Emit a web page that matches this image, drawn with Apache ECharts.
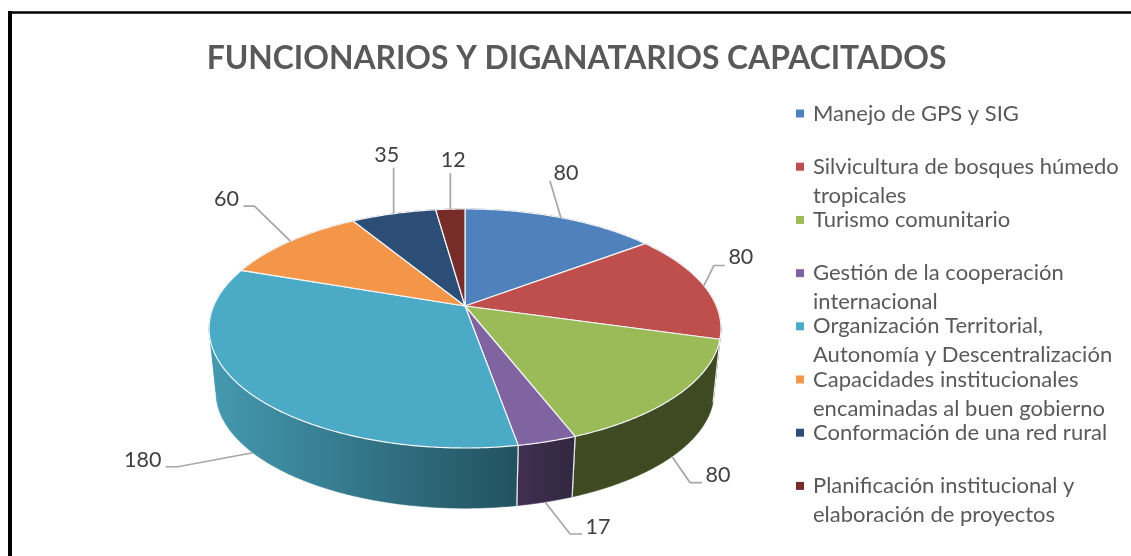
<!DOCTYPE html>
<html>
<head>
<meta charset="utf-8">
<style>
  html, body { margin: 0; padding: 0; background: #fff; }
  #chart { width: 1131px; height: 556px; }
</style>
<script src="https://cdn.jsdelivr.net/npm/echarts@6/dist/echarts.min.js"></script>
</head>
<body>
<div id="chart"></div>
<script>
// datos
const categorias = [
  'Manejo de GPS y SIG',
  'Silvicultura de bosques húmedo tropicales',
  'Turismo comunitario',
  'Gestión de la cooperación internacional',
  'Organización Territorial, Autonomía y Descentralización',
  'Capacidades institucionales encaminadas al buen gobierno',
  'Conformación de una red rural',
  'Planificación institucional y elaboración de proyectos'
];
const valores = [80, 80, 80, 17, 180, 60, 35, 12];

// texto de la leyenda partido en dos lineas
const lineasLeyenda = [
  ['Manejo de GPS y SIG', '\u00a0'],
  ['Silvicultura de bosques húmedo', 'tropicales'],
  ['Turismo comunitario', '\u00a0'],
  ['Gestión de la cooperación', 'internacional'],
  ['Organización Territorial,', 'Autonomía y Descentralización'],
  ['Capacidades institucionales', 'encaminadas al buen gobierno'],
  ['Conformación de una red rural', '\u00a0'],
  ['Planificación institucional y', 'elaboración de proyectos']
];

// colores
const coloresCara = ['#4F81BD', '#BE4F4C', '#9BBB59', '#8064A2', '#4BAAC5', '#F4964A', '#2C4D75', '#772C2A'];
const coloresLado = [
  ['#2F4D71', '#2F4D71'], ['#72302E', '#72302E'], ['#3F4A22', '#3F4A22'], ['#412F52', '#322841'],
  ['#4498AF', '#225260'], ['#95592A', '#95592A'], ['#1A2E46', '#1A2E46'], ['#471A19', '#471A19']
];

// disco en perspectiva
const CX = 465, CY_TOP = 306, CY_BOT = 370;
const RX = 251.4, RY = 115.3, K = 0.188, ESCALA_BOT = 0.973;
const total = valores.reduce((a, b) => a + b, 0);
// angulos donde el borde llega a su x extrema (silueta del cilindro)
const TANGENTES = [Math.acos(-K), Math.PI * 2 - Math.acos(-K)];

function angulo(acum) { return acum / total * Math.PI * 2; }
function puntoTop(t) {
  const u = Math.sin(t), v = -Math.cos(t), w = 1 - K * v;
  return [CX + RX * u / w, CY_TOP + RY * v / w];
}
function puntoBot(t) {
  const u = Math.sin(t), v = -Math.cos(t), w = 1 - K * v;
  return [CX + ESCALA_BOT * RX * u / w, CY_BOT + ESCALA_BOT * RY * v / w];
}
function arco(fn, a0, a1) {
  const pasos = Math.max(4, Math.ceil((a1 - a0) / 0.01));
  const pts = [];
  for (let p = 0; p <= pasos; p++) pts.push(fn(a0 + (a1 - a0) * p / pasos));
  return pts;
}
function acumuladoHasta(i) {
  let s = 0;
  for (let k = 0; k < i; k++) s += valores[k];
  return s;
}

// etiquetas: desplazamientos respecto al borde del sector
const etiquetas = [
  { abajo: false, texto: [5, -45], linea: [[-11, -37]] },
  { abajo: false, texto: [37, -28], linea: [[10, -20], [21, -20]] },
  { abajo: true, texto: [46, 19], linea: [[18, 26], [30, 26]] },
  { abajo: true, texto: [53, 25], linea: [[25, 32], [37, 32]] },
  { abajo: true, texto: [-110, 7], linea: [[-75, 14], [-87, 14]] },
  { abajo: false, texto: [-64, -42], linea: [[-36, -35], [-47, -35]] },
  { abajo: false, texto: [-7, -59], linea: [[0, -46]] },
  { abajo: false, texto: [3, -49], linea: [[0, -36]] }
];

function renderLado(params, api) {
  const i = params.dataIndex;
  const a0 = angulo(acumuladoHasta(i));
  const a1 = a0 + angulo(api.value(0));
  const xs = arco(puntoBot, a0, a1).map(p => p[0]);
  const relleno = new echarts.graphic.LinearGradient(Math.min.apply(null, xs), 0, Math.max.apply(null, xs), 0, [
    { offset: 0, color: coloresLado[i][0] },
    { offset: 1, color: coloresLado[i][1] }
  ], true);
  // se corta en la tangente para que la silueta quede recta
  const cortes = [a0].concat(TANGENTES.filter(t => t > a0 && t < a1), [a1]);
  const hijos = [];
  for (let c = 0; c < cortes.length - 1; c++) {
    hijos.push({
      type: 'polygon',
      shape: { points: arco(puntoTop, cortes[c], cortes[c + 1]).concat(arco(puntoBot, cortes[c], cortes[c + 1]).reverse()) },
      style: { fill: relleno, stroke: relleno, lineWidth: 0.6 }
    });
  }
  [a0, a1].forEach(function (t) {
    hijos.push({
      type: 'line',
      shape: { x1: puntoTop(t)[0], y1: puntoTop(t)[1], x2: puntoBot(t)[0], y2: puntoBot(t)[1] },
      style: { stroke: '#E4E8EC', lineWidth: 1.2 }
    });
  });
  return { type: 'group', children: hijos };
}

function renderCara(i) {
  return function (params, api) {
    const a0 = angulo(acumuladoHasta(i));
    const a1 = a0 + angulo(api.value(0));
    const hijos = [{
      type: 'polygon',
      shape: { points: [[CX, CY_TOP]].concat(arco(puntoTop, a0, a1)) },
      style: { fill: coloresCara[i], stroke: '#F4F6F8', lineWidth: 1.2, lineJoin: 'round' }
    }];
    // linea guia y valor
    const et = etiquetas[i];
    const mitad = (a0 + a1) / 2;
    const ancla = et.abajo ? puntoBot(mitad) : puntoTop(mitad);
    const guia = [ancla].concat(et.linea.map(d => [ancla[0] + d[0], ancla[1] + d[1]]));
    hijos.push({
      type: 'polyline',
      shape: { points: guia },
      style: { fill: null, stroke: '#A6A6A6', lineWidth: 1.7 }
    });
    hijos.push({
      type: 'text',
      style: {
        x: ancla[0] + et.texto[0],
        y: ancla[1] + et.texto[1],
        text: String(api.value(0)),
        fill: '#404040',
        font: '21.5px Lato',
        align: 'center',
        verticalAlign: 'middle'
      }
    });
    return { type: 'group', children: hijos };
  };
}

const series = [{
  name: 'lados',
  type: 'custom',
  coordinateSystem: 'none',
  silent: true,
  z: 1,
  data: valores.map(v => [v]),
  renderItem: renderLado
}];
categorias.forEach(function (nombre, i) {
  series.push({
    name: nombre,
    type: 'custom',
    coordinateSystem: 'none',
    silent: true,
    z: 2,
    itemStyle: { color: coloresCara[i] },
    data: [[valores[i]]],
    renderItem: renderCara(i)
  });
});

const myChart = echarts.init(document.getElementById('chart'));
myChart.setOption({
  animation: false,
  backgroundColor: '#ffffff',
  title: {
    text: 'FUNCIONARIOS Y DIGANATARIOS CAPACITADOS',
    left: 571.5,
    top: 38,
    textAlign: 'center',
    textStyle: { fontFamily: 'Lato', fontWeight: 'bold', fontSize: 31.8, color: '#595959' }
  },
  legend: {
    orient: 'vertical',
    left: 796,
    top: 70,
    padding: 0,
    itemWidth: 8,
    itemHeight: 8,
    itemGap: -33.8,
    icon: 'rect',
    selectedMode: false,
    data: categorias,
    formatter: function (nombre) {
      const l = lineasLeyenda[categorias.indexOf(nombre)];
      // linea en blanco arriba: asi el cuadrito queda a la altura de la primera linea
      return '\u00a0\n' + l[0] + '\n' + l[1];
    },
    textStyle: { fontFamily: 'Lato', fontSize: 22, lineHeight: 29, color: '#595959', padding: [0, 0, 0, 4] }
  },
  graphic: [{
    type: 'line',
    silent: true,
    shape: { x1: 10, y1: 11, x2: 10, y2: 556 },
    style: { stroke: '#000', lineWidth: 4 }
  }, {
    type: 'line',
    silent: true,
    shape: { x1: 8, y1: 12.5, x2: 1131, y2: 12.5 },
    style: { stroke: '#000', lineWidth: 2.6 }
  }],
  series: series
});
</script>
</body>
</html>
